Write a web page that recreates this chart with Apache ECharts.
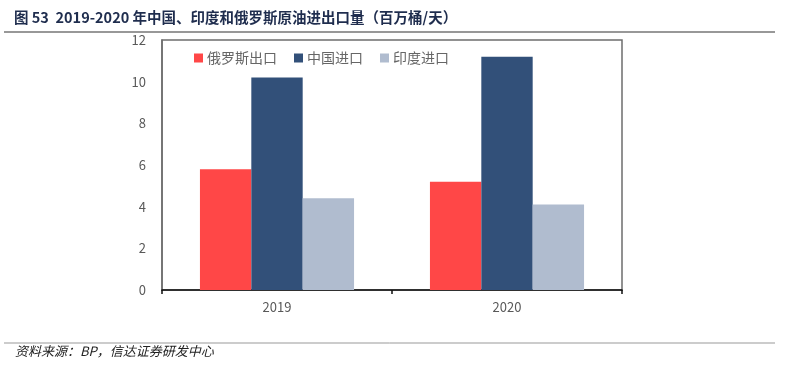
<!DOCTYPE html>
<html><head><meta charset="utf-8">
<script src="https://cdn.jsdelivr.net/npm/echarts@6/dist/echarts.min.js"></script>
<style>html,body{margin:0;padding:0;background:#fff}#c{width:789px;height:372px}</style>
</head><body><div id="c"></div>
<script>
const categories = ['2019', '2020'];
const russiaExport = [5.8, 5.2];
const chinaImport = [10.2, 11.2];
const indiaImport = [4.4, 4.1];
const seriesNames = ['俄罗斯出口', '中国进口', '印度进口'];
const titleText = '图 53  2019-2020 年中国、印度和俄罗斯原油进出口量（百万桶/天）';
const sourceText = '资料来源：BP，信达证券研发中心';

const chart = echarts.init(document.getElementById('c'));
const font = '"Noto Sans CJK SC", "Noto Sans", sans-serif';
chart.setOption({
  animation: false,
  textStyle: { fontFamily: font },
  color: ['#FF4747', '#325079', '#B0BCCF'],
  graphic: [
    { type: 'text', left: 14, top: 10, style: { text: titleText, font: 'bold 14.5px ' + font, fill: '#1F2D4E' } },
    { type: 'line', shape: { x1: 4, y1: 32, x2: 775, y2: 32 }, style: { stroke: '#333', lineWidth: 1.2 } },
    { type: 'line', shape: { x1: 4, y1: 343, x2: 775, y2: 343 }, style: { stroke: '#999', lineWidth: 1 } },
    { type: 'text', left: 15, top: 345, style: { text: sourceText, font: 'italic 13px ' + font, fill: '#222' } }
  ],
  legend: {
    data: seriesNames,
    top: 46, left: 189,
    itemWidth: 9, itemHeight: 9, itemGap: 17,
    icon: 'rect',
    textStyle: { fontSize: 14, color: '#666666', fontFamily: font, padding: [0, 0, 0, -1] }
  },
  grid: {
    left: 162, right: 167, top: 40, bottom: 82,
    show: true, borderColor: '#6e6e6e', borderWidth: 1.5,
    outerBoundsMode: 'none', containLabel: false
  },
  xAxis: {
    type: 'category', data: categories,
    axisLine: { lineStyle: { color: '#111', width: 1.5 } },
    axisTick: { show: true, length: 4, lineStyle: { color: '#111', width: 1.5 } },
    axisLabel: { color: '#595959', fontSize: 13, margin: 11 }
  },
  yAxis: {
    type: 'value', min: 0, max: 12, interval: 2,
    axisLine: { show: true, lineStyle: { color: '#6e6e6e', width: 1.5 } },
    axisTick: { show: false },
    splitLine: { show: false },
    axisLabel: { color: '#595959', fontSize: 13, margin: 16 }
  },
  series: [
    { name: seriesNames[0], type: 'bar', data: russiaExport, barGap: '0%', barCategoryGap: '33%' },
    { name: seriesNames[1], type: 'bar', data: chinaImport, barGap: '0%', barCategoryGap: '33%' },
    { name: seriesNames[2], type: 'bar', data: indiaImport, barGap: '0%', barCategoryGap: '33%' }
  ]
});
</script></body></html>
